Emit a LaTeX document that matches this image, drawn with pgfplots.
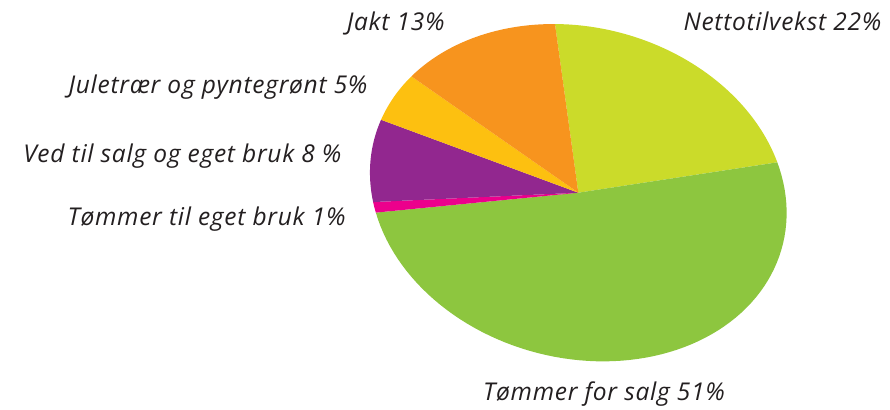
\documentclass[border=0pt]{standalone}
\usepackage{fontspec}
\setmainfont{Open Sans}[LetterSpace=3]
\usepackage{pgfplots}
\pgfplotsset{compat=1.18}
\definecolor{cNett}{RGB}{203,219,42}
\definecolor{cSalg}{RGB}{141,198,63}
\definecolor{cEget}{RGB}{236,0,140}
\definecolor{cVed}{RGB}{146,39,143}
\definecolor{cJul}{RGB}{253,192,16}
\definecolor{cJakt}{RGB}{247,148,30}
\definecolor{cText}{RGB}{35,31,32}
\newcommand{\lbl}{\fontsize{24.5}{28}\selectfont\itshape}
% slice: #1 = cumulative percent before this slice, #2 = percent, #3 = colour
\newcommand{\slice}[3]{%
  \addplot[fill=#3, draw=none, samples=80, variable=\t,
    domain={79.2-3.6*(#1+#2)}:{79.2-3.6*(#1)}]
    ({578.3+199*cos(\t)-61.7*sin(\t)}, {212.3+30.4*cos(\t)+165.9*sin(\t)})
    -- (578.3,212.3) -- cycle;
}
\begin{document}
\begin{tikzpicture}
\begin{axis}[x=1pt, y=1pt, xmin=0, xmax=890, ymin=0, ymax=405,
  hide axis, clip=false]
\addplot[draw=none, forget plot] coordinates {(0,0) (890,405)};
\slice{0}{22}{cNett}
\slice{22}{51}{cSalg}
\slice{73}{1}{cEget}
\slice{74}{8}{cVed}
\slice{82}{5}{cJul}
\slice{87}{13}{cJakt}
\node[anchor=base east, font=\lbl, text=cText] at (axis cs:448,374) {Jakt 13\%};
\node[anchor=base west, font=\lbl, text=cText] at (axis cs:680,374) {Nettotilvekst 22\%};
\node[anchor=base east, font=\lbl, text=cText] at (axis cs:371,311) {Juletrær og pyntegrønt 5\%};
\node[anchor=base east, font=\lbl, text=cText] at (axis cs:345,243) {Ved til salg og eget bruk 8 \%};
\node[anchor=base east, font=\lbl, text=cText] at (axis cs:349,180) {Tømmer til eget bruk 1\%};
\node[anchor=base, font=\lbl, text=cText] at (axis cs:604,4.5) {Tømmer for salg 51\%};
\end{axis}
\end{tikzpicture}
\end{document}
